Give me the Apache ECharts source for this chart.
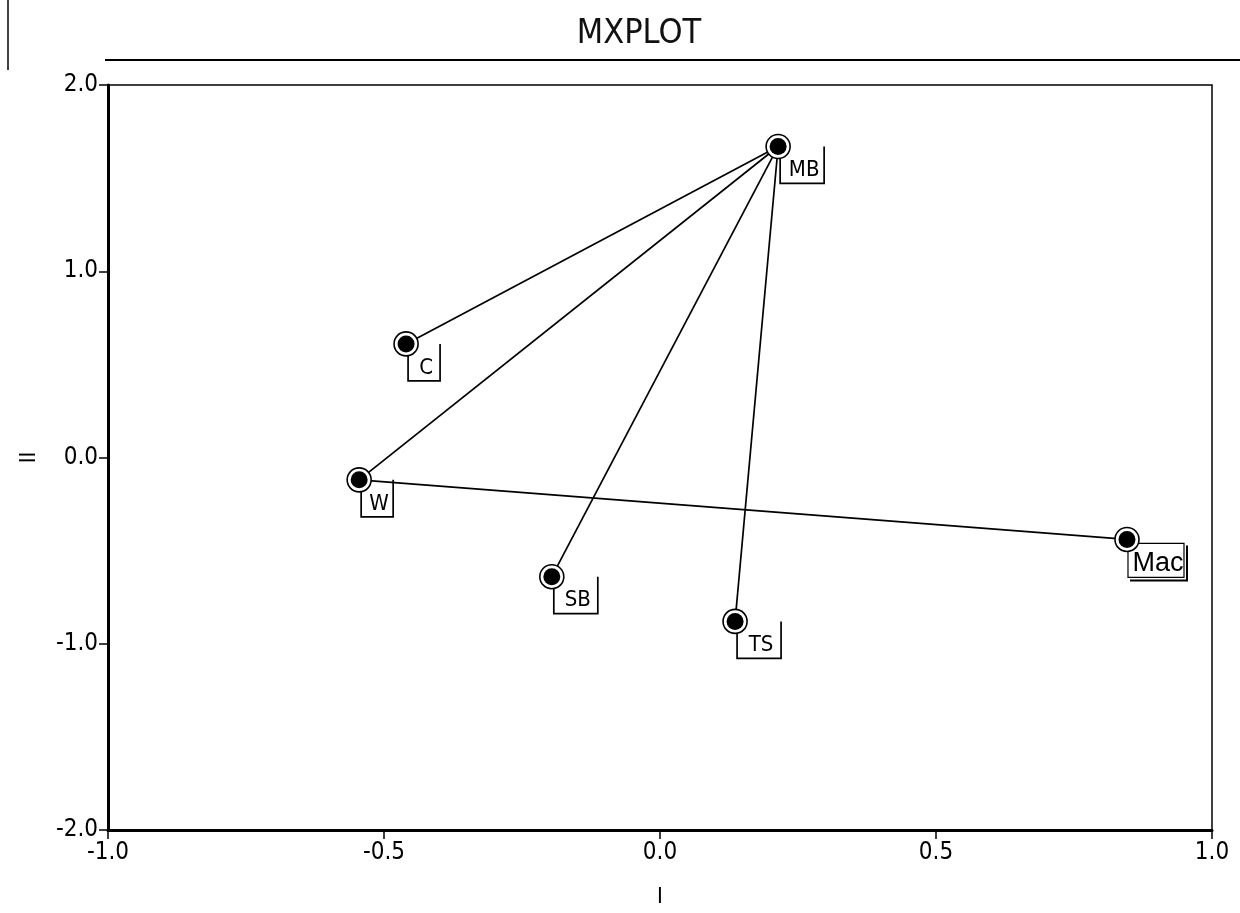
<!DOCTYPE html>
<html>
<head>
<meta charset="utf-8">
<script src="https://cdn.jsdelivr.net/npm/echarts@6/dist/echarts.min.js"></script>
<style>html,body{margin:0;padding:0;background:#fff}#c{width:1240px;height:913px}</style>
</head>
<body>
<div id="c"></div>
<script>
// ---- data ----
const names = ['MB', 'C', 'W', 'SB', 'TS', 'Mac'];
const dimI  = [0.214, -0.46, -0.545, -0.196, 0.136, 0.846];
const dimII = [1.67, 0.61, -0.12, -0.64, -0.88, -0.44];
const edges = [['MB', 'C'], ['MB', 'W'], ['MB', 'SB'], ['MB', 'TS'], ['W', 'Mac']];
const xTicks = [-1.0, -0.5, 0.0, 0.5, 1.0];
const yTicks = [-2.0, -1.0, 0.0, 1.0, 2.0];
const titleText = 'MXPLOT';
const xName = 'I';
const yName = 'II';

const FONT = "'DejaVu Sans Condensed','DejaVu Sans',sans-serif";
const boxedLabels = ['Mac'];

const pts = names.map((n, i) => [dimI[i], dimII[i]]);
const idx = n => names.indexOf(n);

const lineSeries = edges.map(e => ({
  type: 'line',
  data: [pts[idx(e[0])], pts[idx(e[1])]],
  symbol: 'none',
  lineStyle: { color: '#000', width: 1.7 },
  z: 1,
  silent: true
}));

const fmt = v => v.toFixed(1);

const chart = echarts.init(document.getElementById('c'));
chart.setOption({
  animation: false,
  backgroundColor: '#fff',
  title: {
    text: titleText, left: 634, top: 12, textAlign: 'center',
    textStyle: { fontFamily: FONT, fontSize: 34, fontWeight: 'normal', color: '#111' }
  },
  graphic: [
    { type: 'line', shape: { x1: 105, y1: 60, x2: 1240, y2: 60 }, style: { stroke: '#000', lineWidth: 2 } },
    { type: 'line', shape: { x1: 8, y1: 0, x2: 8, y2: 70 }, style: { stroke: '#000', lineWidth: 1.5 } }
  ],
  grid: { left: 108, right: 28, top: 85, bottom: 81, show: true, borderColor: '#000', borderWidth: 1.5, backgroundColor: 'transparent' },
  xAxis: {
    type: 'value', min: -1.0, max: 1.0, interval: 0.5,
    name: xName, nameLocation: 'middle', nameGap: 56,
    nameTextStyle: { fontFamily: FONT, fontSize: 22, color: '#000' },
    axisLine: { show: true, onZero: false, lineStyle: { color: '#000', width: 3 } },
    axisTick: { show: true, length: 9, lineStyle: { color: '#000', width: 1.5 } },
    axisLabel: { fontFamily: FONT, fontSize: 24, color: '#000', margin: 11, formatter: v => fmt(v), showMinLabel: true, showMaxLabel: true },
    splitLine: { show: false }
  },
  yAxis: {
    type: 'value', min: -2.0, max: 2.0, interval: 1.0,
    name: yName, nameLocation: 'middle', nameGap: 68, nameRotate: 90,
    nameTextStyle: { fontFamily: FONT, fontSize: 22, color: '#000' },
    axisLine: { show: true, onZero: false, lineStyle: { color: '#000', width: 3 } },
    axisTick: { show: true, length: 9, lineStyle: { color: '#000', width: 1.5 } },
    axisLabel: { fontFamily: FONT, fontSize: 24, color: '#000', margin: 10, formatter: v => fmt(v) },
    splitLine: { show: false }
  },
  series: [
    ...lineSeries,
    {
      type: 'custom',
      data: pts,
      z: 2,
      silent: true,
      renderItem(params, api) {
        const p = api.coord([api.value(0), api.value(1)]);
        const name = names[params.dataIndex];
        if (boxedLabels.includes(name)) {
          const x0 = p[0] + 1, y0 = p[1] + 4, w = 56, h = 34;
          return { type: 'group', children: [
            { type: 'rect', shape: { x: x0, y: y0, width: w, height: h }, style: { fill: '#fff', stroke: '#000', lineWidth: 1.2 } },
            { type: 'polyline', shape: { points: [[x0 + w + 3, y0 + 2], [x0 + w + 3, y0 + h + 3], [x0 + 2, y0 + h + 3]] }, style: { fill: null, stroke: '#000', lineWidth: 2 } },
            { type: 'text', style: { x: x0 + w / 2 + 2, y: y0 + h / 2 + 3, text: name, fontFamily: "'Liberation Sans',Arial,sans-serif", fontSize: 27, fill: '#000', align: 'center', verticalAlign: 'middle' } }
          ] };
        }
        const w = 20 + 12 * name.length;
        const x0 = p[0] + 2;
        return { type: 'group', children: [
          { type: 'polyline', shape: { points: [[x0, p[1] + 10], [x0, p[1] + 37], [x0 + w, p[1] + 37], [x0 + w, p[1]]] }, style: { fill: null, stroke: '#000', lineWidth: 1.7 } },
          { type: 'text', style: { x: x0 + w / 2 + 2, y: p[1] + 24, text: name, fontFamily: FONT, fontSize: 22, fill: '#000', align: 'center', verticalAlign: 'middle' } }
        ] };
      }
    },
    {
      type: 'scatter', data: pts, symbol: 'circle', symbolSize: 24, z: 3, silent: true,
      itemStyle: { color: '#fff', borderColor: '#000', borderWidth: 1.6, opacity: 1 }
    },
    {
      type: 'scatter', data: pts, symbol: 'circle', symbolSize: 17, z: 4, silent: true,
      itemStyle: { color: '#000', opacity: 1 }
    }
  ]
});
</script>
</body>
</html>
